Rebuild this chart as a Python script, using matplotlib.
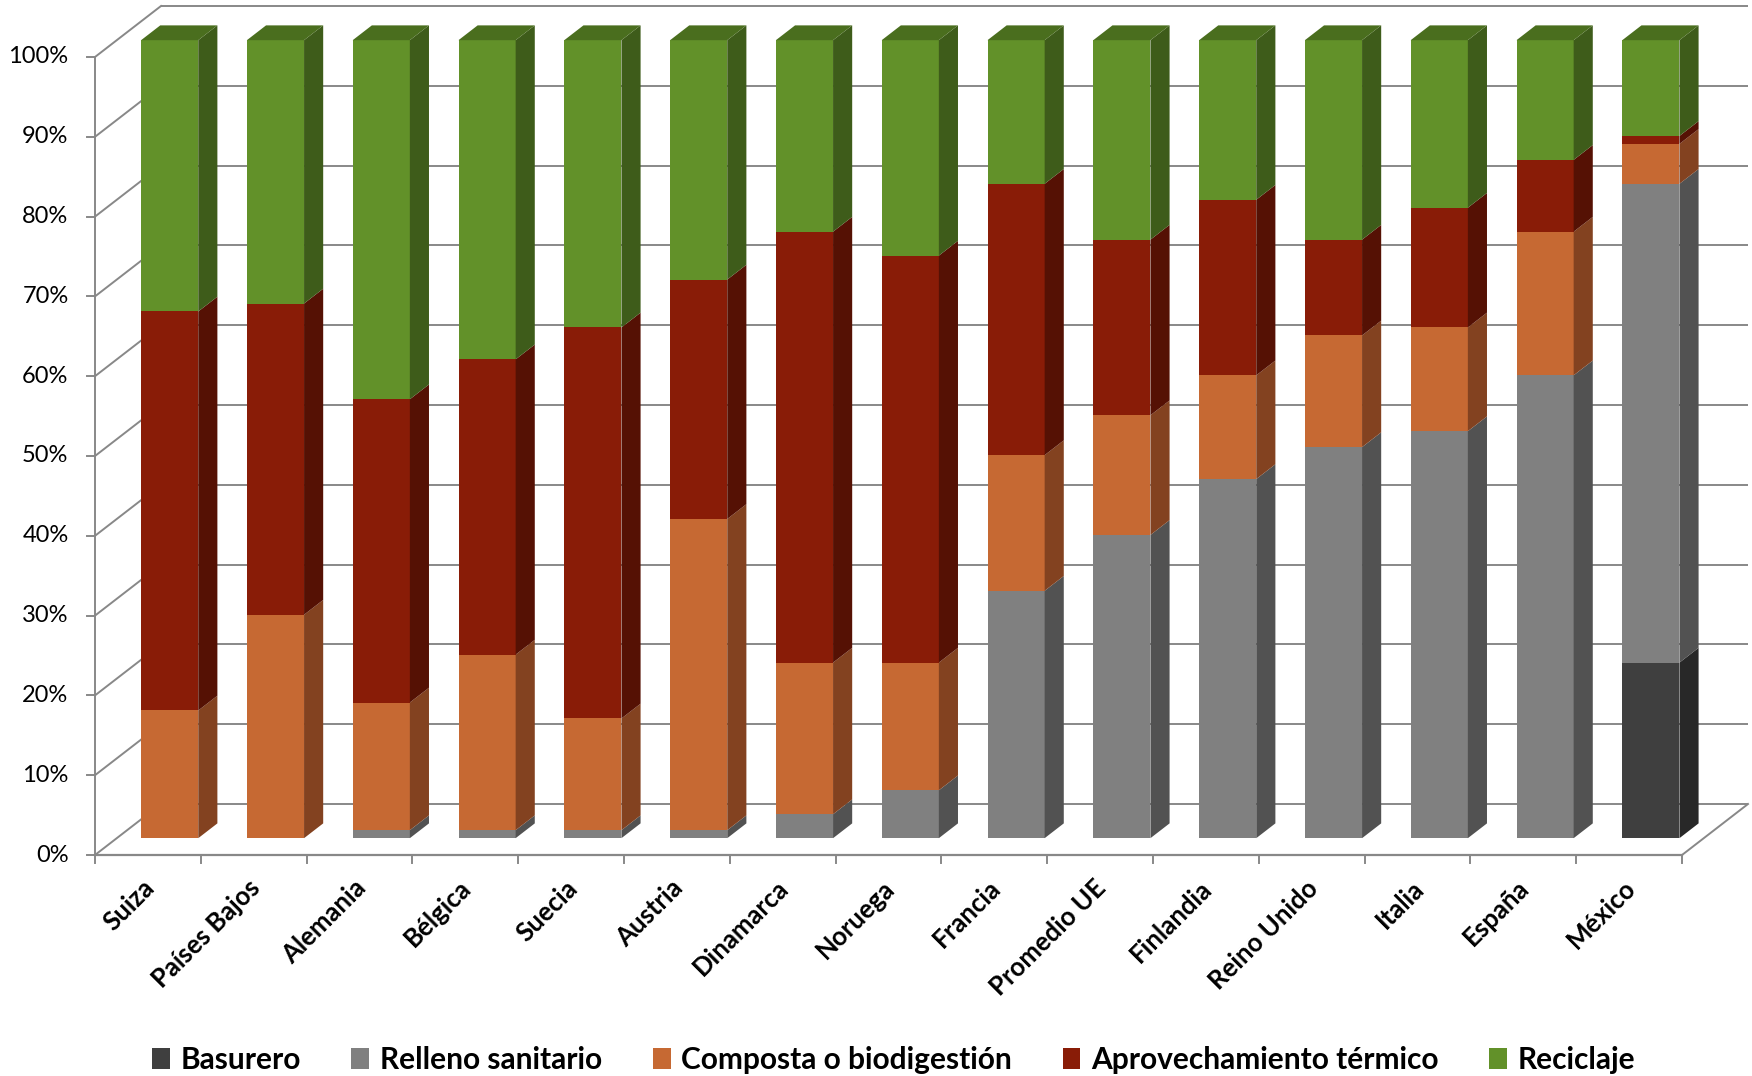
import matplotlib
matplotlib.use('Agg')
import matplotlib.pyplot as plt
from matplotlib.patches import Polygon, Patch

# ---------------- data ----------------
categories = ['Suiza', 'Países Bajos', 'Alemania', 'Bélgica', 'Suecia', 'Austria',
              'Dinamarca', 'Noruega', 'Francia', 'Promedio UE', 'Finlandia',
              'Reino Unido', 'Italia', 'España', 'México']
series_names = ['Basurero', 'Relleno sanitario', 'Composta o biodigestión',
                'Aprovechamiento térmico', 'Reciclaje']
basurero = [0, 0, 0, 0, 0, 0, 0, 0, 0, 0, 0, 0, 0, 0, 22]
relleno = [0, 0, 1, 1, 1, 1, 3, 6, 31, 38, 45, 49, 51, 58, 60]
composta = [16, 28, 16, 22, 14, 39, 19, 16, 17, 15, 13, 14, 13, 18, 5]
termico = [50, 39, 38, 37, 49, 30, 54, 51, 34, 22, 22, 12, 15, 9, 1]
reciclaje = [34, 33, 45, 40, 36, 30, 24, 27, 18, 25, 20, 25, 21, 15, 12]
ytick_values = [0, 10, 20, 30, 40, 50, 60, 70, 80, 90, 100]
ytick_labels = ['0%', '10%', '20%', '30%', '40%', '50%', '60%', '70%', '80%', '90%', '100%']

# ---------------- style ----------------
front_cols = ['#3f3f3f', '#808080', '#c66933', '#891c07', '#629129']
side_cols = ['#282828', '#525252', '#834220', '#551104', '#3e5c1a']
top_cols = ['#333333', '#6a6a6a', '#9c5229', '#6c1505', '#4a6e1e']
grid_col = '#888888'
FONT = ['Lato', 'DejaVu Sans']

W, H = 1752, 1076
PX_X = 105.8      # pixels per category
PX_Y = 7.98       # pixels per percent
X0, Y0 = 95, 855  # pixel of front-left floor corner

fig = plt.figure(figsize=(W / 100, H / 100), dpi=100)
ax = fig.add_axes([0, 0, 1, 1])
ax.set_xlim(-X0 / PX_X, (W - X0) / PX_X)
ax.set_ylim((Y0 - H) / PX_Y, Y0 / PX_Y)
ax.axis('off')

n = len(categories)
DX = 66 / PX_X   # full depth in x data units
DY = 51 / PX_Y   # full depth in y data units
f = 0.33         # depth of bar front face
d = 0.29         # bar depth
w = 0.54         # bar width

# ---------------- walls / gridlines ----------------
for v, lab in zip(ytick_values, ytick_labels):
    ax.plot([DX, n + DX], [v + DY, v + DY], color=grid_col, lw=1.4, zorder=1,
            solid_capstyle='butt')
    ax.plot([0, DX], [v, v + DY], color=grid_col, lw=1.4, zorder=1)
    ax.plot([-0.08, 0], [v, v], color=grid_col, lw=1.4, zorder=1)
    ax.text(-0.25, v, lab, ha='right', va='center',
            fontsize=17, family=FONT, color='#000000')
ax.plot([0, 0], [0, 100], color=grid_col, lw=1.4, zorder=1)
ax.plot([0, n], [0, 0], color=grid_col, lw=1.6, zorder=1)
ax.plot([n, n + DX], [0, DY], color=grid_col, lw=1.4, zorder=1)
for i in range(n + 1):
    ax.plot([i, i], [0, -1.0], color=grid_col, lw=1.4, zorder=1)

# ---------------- bars ----------------
data = [basurero, relleno, composta, termico, reciclaje]
centers = [i + 0.5 + f * DX for i in range(n)]
bottoms = [0.0] * n
for j, vals in enumerate(data):
    b = [bottoms[i] + f * DY for i in range(n)]
    ax.bar(centers, vals, width=w, bottom=b, color=front_cols[j], linewidth=0,
           zorder=3)
    for i in range(n):
        if vals[i] <= 0:
            continue
        xr = centers[i] + w / 2
        lo = bottoms[i] + f * DY
        hi = bottoms[i] + vals[i] + f * DY
        side = Polygon([(xr, lo), (xr + d * DX, lo + d * DY),
                        (xr + d * DX, hi + d * DY), (xr, hi)],
                       closed=True, facecolor=side_cols[j], edgecolor='none',
                       zorder=3)
        ax.add_patch(side)
    bottoms = [bottoms[i] + vals[i] for i in range(n)]

for i in range(n):
    xl = centers[i] - w / 2
    xr = centers[i] + w / 2
    t = bottoms[i] + f * DY
    top = Polygon([(xl, t), (xl + d * DX, t + d * DY), (xr + d * DX, t + d * DY), (xr, t)],
                  closed=True, facecolor=top_cols[4], edgecolor='none', zorder=3)
    ax.add_patch(top)

# ---------------- category labels ----------------
for i, c in enumerate(categories):
    ax.text(i + 0.44, -2.6, c, rotation=45, rotation_mode='anchor', ha='right',
            va='top', fontsize=18.5, fontweight='bold', family=FONT)

# ---------------- legend ----------------
handles = [Patch(facecolor=front_cols[j], edgecolor='none') for j in range(5)]
fig.legend(handles, series_names, loc='center', bbox_to_anchor=(0.51, 0.0145),
           ncol=5, frameon=False, handlelength=0.6, handleheight=0.7,
           handletextpad=0.35, columnspacing=1.7,
           prop={'family': FONT, 'weight': 'bold', 'size': 21.5})

fig.savefig('out.png', dpi=100)
